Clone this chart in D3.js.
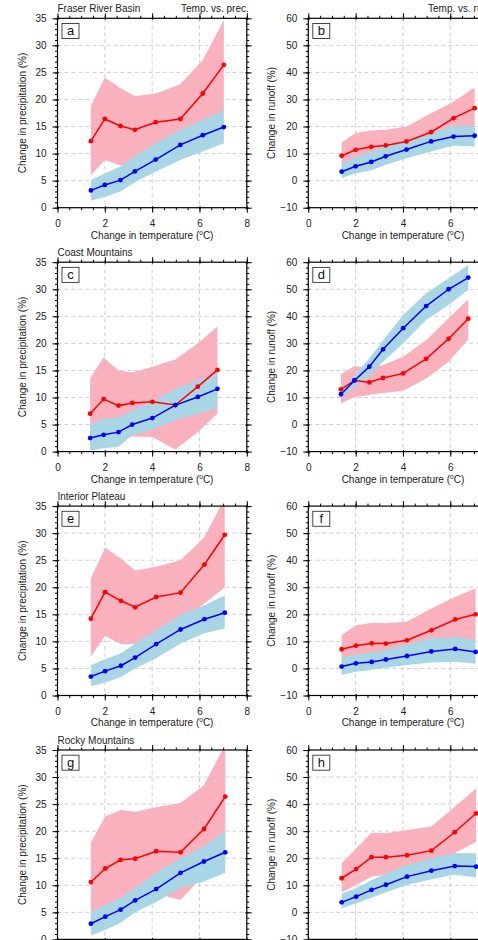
<!DOCTYPE html>
<html lang="en">
<head>
<meta charset="UTF-8">
<title>Temperature vs precipitation and runoff</title>
<script src="https://d3js.org/d3.v7.min.js"></script>
<style>
  body { margin: 0; background: #fff; }
  svg { display: block; font-family: "Liberation Sans", Arial, Helvetica, sans-serif; }
  .tick text { font-size: 10px; fill: #222; }
  .tick line { stroke: #000; stroke-width: 1; }
</style>
</head>
<body>
<div id="chart"></div>
<script>
// Regions and panel letters
const regions = ["Fraser River Basin", "Coast Mountains", "Interior Plateau", "Rocky Mountains"];
const letters = [["a", "b"], ["c", "d"], ["e", "f"], ["g", "h"]];
const colTitles = ["Temp. vs. prec.", "Temp. vs. runoff."];
const yLabels = ["Change in precipitation (%)", "Change in runoff (%)"];

// Change in temperature (x) per region
const fraserT   = [1.41, 2.00, 2.66, 3.27, 4.15, 5.19, 6.14, 7.03];
const coastT    = [1.38, 1.95, 2.58, 3.16, 4.01, 4.98, 5.93, 6.76];
const interiorT = [1.41, 2.01, 2.68, 3.28, 4.17, 5.20, 6.21, 7.07];
const rockyT    = [1.41, 2.02, 2.67, 3.28, 4.17, 5.20, 6.19, 7.09];

// Fraser River Basin - precipitation (a)
const fraserPrecR   = [12.3, 16.4, 15.1, 14.4, 15.8, 16.4, 21.1, 26.4];
const fraserPrecRHi = [18.8, 24.0, 22.1, 20.6, 21.1, 22.8, 27.3, 34.7];
const fraserPrecRLo = [6.0, 8.8, 7.8, 8.0, 9.5, 12.0, 14.5, 17.5];
const fraserPrecB   = [3.2, 4.2, 5.1, 6.7, 8.9, 11.6, 13.4, 14.9];
const fraserPrecBHi = [5.1, 6.3, 7.6, 9.5, 11.9, 14.4, 16.2, 18.0];
const fraserPrecBLo = [1.3, 2.0, 3.0, 4.7, 6.7, 8.8, 10.4, 11.9];
// Fraser River Basin - runoff (b)
const fraserRunR   = [9.2, 11.4, 12.5, 13.0, 14.5, 17.9, 23.1, 26.8];
const fraserRunRHi = [14.1, 17.6, 18.5, 18.8, 20.0, 24.9, 29.2, 34.5];
const fraserRunRLo = [4.5, 6.5, 7.5, 8.5, 9.5, 12.0, 15.0, 18.0];
const fraserRunB   = [3.3, 5.3, 6.9, 9.0, 11.5, 14.5, 16.3, 16.6];
const fraserRunBHi = [6.2, 9.0, 10.8, 12.6, 14.9, 17.8, 20.3, 20.4];
const fraserRunBLo = [1.0, 2.6, 3.8, 5.9, 8.3, 10.8, 13.0, 12.6];

// Coast Mountains - precipitation (c)
const coastPrecR   = [7.0, 9.7, 8.5, 9.0, 9.2, 8.6, 12.0, 15.1];
const coastPrecRHi = [13.5, 17.4, 15.0, 14.6, 15.7, 17.0, 20.0, 23.1];
const coastPrecRLo = [1.5, 2.0, 2.5, 2.8, 2.7, 0.4, 3.6, 7.0];
const coastPrecB   = [2.5, 3.1, 3.6, 5.0, 6.2, 8.6, 10.1, 11.6];
const coastPrecBHi = [5.0, 6.1, 6.3, 7.6, 9.2, 11.6, 13.2, 14.4];
const coastPrecBLo = [0.2, 0.6, 0.9, 3.0, 4.1, 5.8, 7.0, 8.1];
// Coast Mountains - runoff (d)
const coastRunR   = [13.0, 16.3, 15.6, 17.2, 18.9, 24.3, 31.7, 39.1];
const coastRunRHi = [18.5, 21.6, 20.7, 22.0, 25.1, 31.2, 39.3, 46.3];
const coastRunRLo = [7.8, 10.2, 10.9, 11.7, 12.5, 17.0, 23.2, 31.5];
const coastRunB   = [11.2, 16.3, 21.4, 27.8, 35.6, 43.8, 50.0, 54.3];
const coastRunBHi = [12.1, 18.3, 24.4, 31.2, 40.5, 48.5, 54.1, 59.0];
const coastRunBLo = [9.6, 14.0, 17.9, 23.2, 30.0, 38.6, 44.2, 49.8];

// Interior Plateau - precipitation (e)
const interiorPrecR   = [14.2, 19.1, 17.5, 16.3, 18.2, 19.0, 24.2, 29.7];
const interiorPrecRHi = [21.6, 27.3, 25.3, 23.1, 23.8, 25.0, 29.3, 36.5];
const interiorPrecRLo = [7.2, 11.0, 9.5, 9.5, 12.0, 14.0, 17.0, 20.0];
const interiorPrecB   = [3.5, 4.5, 5.5, 7.0, 9.5, 12.2, 14.1, 15.3];
const interiorPrecBHi = [5.6, 6.7, 7.8, 9.6, 12.1, 14.9, 16.7, 18.5];
const interiorPrecBLo = [1.7, 2.4, 3.4, 5.0, 6.9, 9.6, 11.5, 12.4];
// Interior Plateau - runoff (f)
const interiorRunR   = [7.1, 8.4, 9.3, 9.2, 10.4, 14.1, 18.1, 20.0];
const interiorRunRHi = [12.4, 15.9, 16.9, 16.7, 17.3, 22.2, 26.5, 29.5];
const interiorRunRLo = [3.0, 4.0, 5.0, 5.5, 6.5, 9.0, 11.0, 10.5];
const interiorRunB   = [0.7, 1.9, 2.4, 3.3, 4.6, 6.3, 7.2, 6.1];
const interiorRunBHi = [4.1, 5.2, 5.8, 6.8, 9.0, 11.1, 11.7, 10.5];
const interiorRunBLo = [-2.4, -1.2, -0.5, 0.3, 1.3, 2.2, 2.5, 1.7];

// Rocky Mountains - precipitation (g)
const rockyPrecR   = [10.6, 13.1, 14.7, 14.9, 16.3, 16.1, 20.4, 26.4];
const rockyPrecRHi = [17.9, 22.7, 23.9, 23.6, 24.4, 25.2, 28.5, 36.0];
const rockyPrecRLo = [3.0, 4.0, 5.0, 6.5, 8.5, 7.3, 12.0, 17.0];
const rockyPrecB   = [2.9, 4.2, 5.5, 7.2, 9.3, 12.3, 14.4, 16.1];
const rockyPrecBHi = [5.0, 6.4, 7.7, 9.5, 12.3, 15.0, 17.2, 20.0];
const rockyPrecBLo = [0.7, 1.8, 3.1, 5.0, 6.9, 9.5, 10.7, 12.3];
// Rocky Mountains - runoff (h)
const rockyRunR   = [12.6, 16.0, 20.4, 20.4, 21.1, 22.8, 29.6, 36.6];
const rockyRunRHi = [18.1, 23.6, 29.4, 29.2, 30.4, 31.7, 39.0, 45.8];
const rockyRunRLo = [7.3, 10.1, 13.2, 14.0, 16.0, 18.5, 21.8, 26.1];
const rockyRunB   = [3.7, 5.8, 8.3, 10.2, 13.2, 15.4, 17.1, 16.9];
const rockyRunBHi = [7.0, 8.9, 11.9, 14.4, 17.5, 20.0, 21.8, 21.8];
const rockyRunBLo = [1.5, 3.3, 5.4, 7.4, 10.1, 12.2, 14.0, 12.9];

// Axis ranges and ticks
const xDomain = [0, 8];
const xMajor = [0, 2, 4, 6, 8];
const yDomains = [[0, 35], [-10, 60]];
const yMajors = [[0, 5, 10, 15, 20, 25, 30, 35], [-10, 0, 10, 20, 30, 40, 50, 60]];

// build panel table from the arrays above
const temps = [fraserT, coastT, interiorT, rockyT];
const panelData = [
  [[fraserPrecR, fraserPrecRLo, fraserPrecRHi, fraserPrecB, fraserPrecBLo, fraserPrecBHi],
   [fraserRunR, fraserRunRLo, fraserRunRHi, fraserRunB, fraserRunBLo, fraserRunBHi]],
  [[coastPrecR, coastPrecRLo, coastPrecRHi, coastPrecB, coastPrecBLo, coastPrecBHi],
   [coastRunR, coastRunRLo, coastRunRHi, coastRunB, coastRunBLo, coastRunBHi]],
  [[interiorPrecR, interiorPrecRLo, interiorPrecRHi, interiorPrecB, interiorPrecBLo, interiorPrecBHi],
   [interiorRunR, interiorRunRLo, interiorRunRHi, interiorRunB, interiorRunBLo, interiorRunBHi]],
  [[rockyPrecR, rockyPrecRLo, rockyPrecRHi, rockyPrecB, rockyPrecBLo, rockyPrecBHi],
   [rockyRunR, rockyRunRLo, rockyRunRHi, rockyRunB, rockyRunBLo, rockyRunBHi]]
];

// layout
const W = 189.3, H = 189.4;
const colX = [57.5, 308.3];
const rowY0 = 18.3, rowStep = 243.9;
const pink = "#f9b1be", lightBlue = "#a9d6e4";

const svg = d3.select("#chart").append("svg")
  .attr("width", 478).attr("height", 940);

const x = d3.scaleLinear().domain(xDomain).range([0, W]);

function styleAxis(sel) {
  sel.select(".domain").remove();
}

regions.forEach((region, r) => {
  [0, 1].forEach(c => {
    const g = svg.append("g")
      .attr("transform", `translate(${colX[c]},${rowY0 + r * rowStep})`);
    const y = d3.scaleLinear().domain(yDomains[c]).range([H, 0]);
    const yMajor = yMajors[c];
    const yMinor = d3.range(yDomains[c][0], yDomains[c][1] + 0.01, c === 0 ? 1 : 2);
    const xMinor = d3.range(0, 8.01, 0.5);
    const clipId = `clip-${r}-${c}`;

    g.append("clipPath").attr("id", clipId)
      .append("rect").attr("width", W).attr("height", H);

    // grid
    const grid = g.append("g").attr("stroke", "#c4c4c4").attr("stroke-width", 0.8)
      .attr("stroke-dasharray", "4,3");
    grid.selectAll(".gx").data(xMajor.slice(1, -1)).join("line")
      .attr("x1", d => x(d)).attr("x2", d => x(d)).attr("y1", 0).attr("y2", H);
    grid.selectAll(".gy").data(yMajor.slice(1, -1)).join("line")
      .attr("y1", d => y(d)).attr("y2", d => y(d)).attr("x1", 0).attr("x2", W);

    const [rMean, rLo, rHi, bMean, bLo, bHi] = panelData[r][c];
    const t = temps[r];
    const idx = d3.range(t.length);
    const plot = g.append("g").attr("clip-path", `url(#${clipId})`);

    const band = (lo, hi) => d3.area()
      .x(i => x(t[i])).y0(i => y(lo[i])).y1(i => y(hi[i]))(idx);
    const line = d => d3.line().x(i => x(t[i])).y(i => y(d[i]))(idx);

    plot.append("path").attr("d", band(rLo, rHi)).attr("fill", pink);
    plot.append("path").attr("d", band(bLo, bHi)).attr("fill", lightBlue);

    [[rMean, "#ff0000"], [bMean, "#0000ff"]].forEach(([d, col]) => {
      plot.append("path").attr("d", line(d)).attr("fill", "none")
        .attr("stroke", col).attr("stroke-width", 1.5);
      plot.selectAll(null).data(idx).join("circle")
        .attr("cx", i => x(t[i])).attr("cy", i => y(d[i])).attr("r", 2.4)
        .attr("fill", col);
    });

    // minor ticks on all sides
    g.append("g").attr("transform", `translate(0,${H})`)
      .call(d3.axisBottom(x).tickValues(xMinor).tickSize(2.5).tickFormat("")).call(styleAxis);
    g.append("g")
      .call(d3.axisTop(x).tickValues(xMinor).tickSize(2.5).tickFormat("")).call(styleAxis);
    g.append("g")
      .call(d3.axisLeft(y).tickValues(yMinor).tickSize(2.5).tickFormat("")).call(styleAxis);
    g.append("g").attr("transform", `translate(${W},0)`)
      .call(d3.axisRight(y).tickValues(yMinor).tickSize(2.5).tickFormat("")).call(styleAxis);

    // major ticks
    const xb = g.append("g").attr("transform", `translate(0,${H})`)
      .call(d3.axisBottom(x).tickValues(xMajor).tickSize(5).tickPadding(7)).call(styleAxis);
    xb.selectAll(".tick line").attr("y1", -1.5);
    g.append("g")
      .call(d3.axisTop(x).tickValues(xMajor).tickSize(5).tickFormat("")).call(styleAxis)
      .selectAll(".tick line").attr("y1", 1.5);
    const yl = g.append("g")
      .call(d3.axisLeft(y).tickValues(yMajor).tickSize(5).tickPadding(6)).call(styleAxis);
    yl.selectAll(".tick line").attr("x1", 1.5);
    g.append("g").attr("transform", `translate(${W},0)`)
      .call(d3.axisRight(y).tickValues(yMajor).tickSize(5).tickFormat("")).call(styleAxis)
      .selectAll(".tick line").attr("x1", -1.5);

    // frame
    g.append("rect").attr("width", W).attr("height", H)
      .attr("fill", "none").attr("stroke", "#000").attr("stroke-width", 1.2);

    // panel letter box
    g.append("rect").attr("x", 4.5).attr("y", 5.2).attr("width", 17).attr("height", 15)
      .attr("fill", "#fff").attr("stroke", "#333").attr("stroke-width", 0.9);
    g.append("text").attr("x", 13).attr("y", 16.8).attr("text-anchor", "middle")
      .attr("font-size", 13).attr("fill", "#111").text(letters[r][c]);

    // axis titles
    const xt = g.append("text").attr("x", W / 2).attr("y", H + 31)
      .attr("text-anchor", "middle").attr("font-size", 10).attr("fill", "#222");
    xt.append("tspan").text("Change in temperature (");
    xt.append("tspan").attr("font-size", 6.5).attr("dy", -4).text("o");
    xt.append("tspan").attr("dy", 4).text("C)");

    g.append("text")
      .attr("transform", `translate(${c === 0 ? -31.5 : -33},${H / 2}) rotate(-90)`)
      .attr("text-anchor", "middle").attr("font-size", 10).attr("fill", "#222")
      .text(yLabels[c]);

    // titles
    if (c === 0) {
      g.append("text").attr("x", 0).attr("y", -6.3).attr("font-size", 10)
        .attr("fill", "#222").text(region);
    }
    if (r === 0) {
      // left title is right-aligned to the frame; right one starts where the reference's does
      const tt = g.append("text").attr("y", -6.3).attr("font-size", 10)
        .attr("fill", "#222").text(colTitles[c]);
      if (c === 0) tt.attr("x", W + 2).attr("text-anchor", "end");
      else tt.attr("x", 428 - colX[1]).attr("text-anchor", "start");
    }
  });
});
</script>
</body>
</html>
